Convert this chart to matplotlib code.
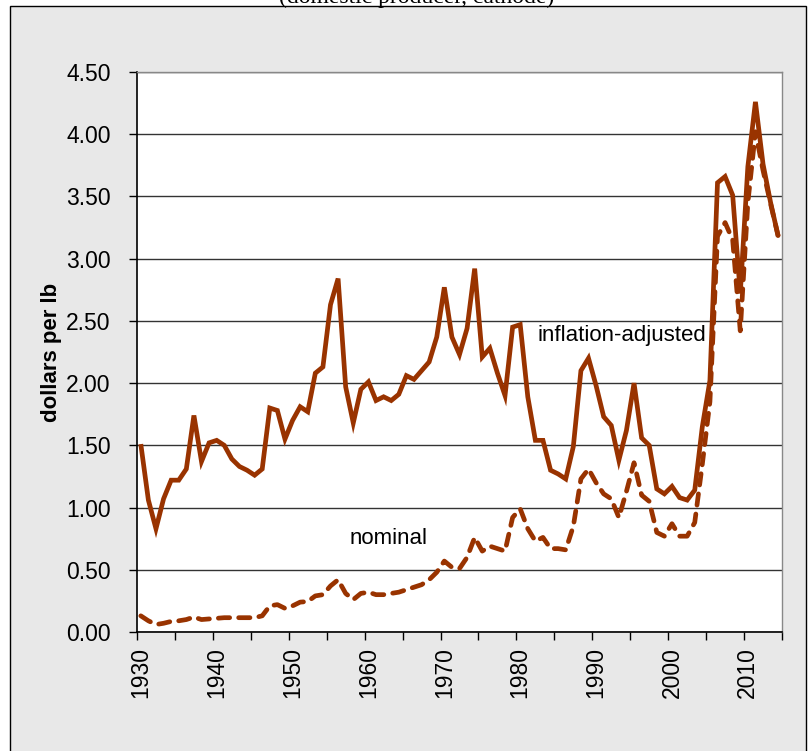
import matplotlib
matplotlib.use("Agg")
import matplotlib.pyplot as plt
from matplotlib.patches import Rectangle
import numpy as np

years = list(range(1930, 2015))
inflation_adjusted = [
    1.51, 1.06, 0.83, 1.07, 1.22, 1.22, 1.31, 1.74, 1.37, 1.52,
    1.54, 1.50, 1.39, 1.33, 1.30, 1.26, 1.31, 1.80, 1.78, 1.55,
    1.70, 1.81, 1.77, 2.08, 2.13, 2.63, 2.84, 1.97, 1.68, 1.95,
    2.01, 1.86, 1.89, 1.86, 1.91, 2.06, 2.03, 2.10, 2.17, 2.37,
    2.77, 2.37, 2.23, 2.44, 2.92, 2.21, 2.28, 2.08, 1.90, 2.45,
    2.47, 1.89, 1.54, 1.54, 1.30, 1.27, 1.23, 1.49, 2.10, 2.20,
    1.98, 1.73, 1.66, 1.38, 1.62, 2.00, 1.56, 1.50, 1.15, 1.11,
    1.17, 1.08, 1.06, 1.14, 1.65, 2.02, 3.61, 3.66, 3.51, 2.72,
    3.74, 4.26, 3.76, 3.45, 3.18,
]
nominal = [
    0.13, 0.09, 0.06, 0.07, 0.085, 0.09, 0.10, 0.12, 0.10, 0.105,
    0.11, 0.115, 0.115, 0.115, 0.115, 0.115, 0.13, 0.21, 0.22, 0.19,
    0.21, 0.24, 0.245, 0.29, 0.30, 0.37, 0.42, 0.31, 0.26, 0.31,
    0.32, 0.30, 0.30, 0.31, 0.32, 0.34, 0.36, 0.38, 0.42, 0.48,
    0.57, 0.52, 0.51, 0.60, 0.76, 0.65, 0.69, 0.67, 0.65, 0.92,
    0.99, 0.83, 0.73, 0.76, 0.67, 0.67, 0.66, 0.85, 1.23, 1.31,
    1.20, 1.11, 1.07, 0.92, 1.13, 1.36, 1.10, 1.05, 0.80, 0.77,
    0.87, 0.77, 0.77, 0.88, 1.35, 1.85, 3.18, 3.29, 3.15, 2.42,
    3.45, 4.02, 3.71, 3.44, 3.18,
]
y_ticks = [0.0, 0.5, 1.0, 1.5, 2.0, 2.5, 3.0, 3.5, 4.0, 4.5]
x_label_years = [1930, 1940, 1950, 1960, 1970, 1980, 1990, 2000, 2010]

W, H = 809, 751
fig = plt.figure(figsize=(W / 100, H / 100), dpi=100)
fig.patch.set_facecolor("white")

# frame behind the chart
frame = Rectangle((10 / W, -0.05), (806 - 10) / W, 1.05 - 5.5 / H,
                  transform=fig.transFigure, facecolor="#e8e8e8",
                  edgecolor="black", linewidth=1, zorder=-10)
fig.patches.append(frame)

fig.text(417 / W, 1 - 2.7 / H, "(domestic producer, cathode)",
         ha="center", va="baseline", fontsize=17,
         family="Liberation Serif", color="black")

ax = fig.add_axes([137 / W, 1 - 632 / H, 645 / W, 560 / H])
ax.set_zorder(5)
ax.set_facecolor("white")

x = np.array(years) + 0.5
color = "#993300"
ax.plot(x, inflation_adjusted, color=color, lw=3.4, solid_joinstyle="miter",
        solid_capstyle="butt", zorder=3)
ax.plot(x, nominal, color=color, lw=3.4, dashes=(2.4, 1.9),
        dash_capstyle="round", dash_joinstyle="round", zorder=3)

ax.set_xlim(1930, 2015)
ax.set_ylim(0, 4.5)
ax.set_yticks(y_ticks)
ax.set_yticklabels([f"{v:.2f}" for v in y_ticks], fontsize=16.5,
                   family="Liberation Sans")
ax.set_xticks(np.arange(1930, 2016, 5))
ax.set_xticklabels([])
ax.set_xticks([yr + 0.5 for yr in x_label_years], minor=True)
ax.set_xticklabels([str(yr) for yr in x_label_years], minor=True,
                   rotation=90, fontsize=16.5, family="Liberation Sans",
                   va="top", ha="center")
ax.tick_params(axis="x", which="minor", length=0, pad=11)
ax.tick_params(axis="x", which="major", direction="out", length=6,
               width=1, color="black")
ax.tick_params(axis="y", direction="out", length=6, width=1, pad=13,
               color="black")

ax.yaxis.grid(True, color="#333333", lw=1)
ax.set_axisbelow(True)
for s in ["top", "right"]:
    ax.spines[s].set_color("#888888")
    ax.spines[s].set_linewidth(1)
for s in ["left", "bottom"]:
    ax.spines[s].set_color("black")
    ax.spines[s].set_linewidth(1.2)

ax.text(1982.75, 2.38, "inflation-adjusted", ha="left", va="center",
        fontsize=16, family="Liberation Sans", zorder=4)
ax.text(1958.0, 0.75, "nominal", ha="left", va="center",
        fontsize=16, family="Liberation Sans", zorder=4)

fig.text(51.7 / W, 1 - 352 / H, "dollars per lb", rotation=90,
         ha="center", va="center", fontsize=16, fontweight="bold",
         family="Liberation Sans")

fig.savefig("out.png", dpi=100, facecolor=fig.get_facecolor())
